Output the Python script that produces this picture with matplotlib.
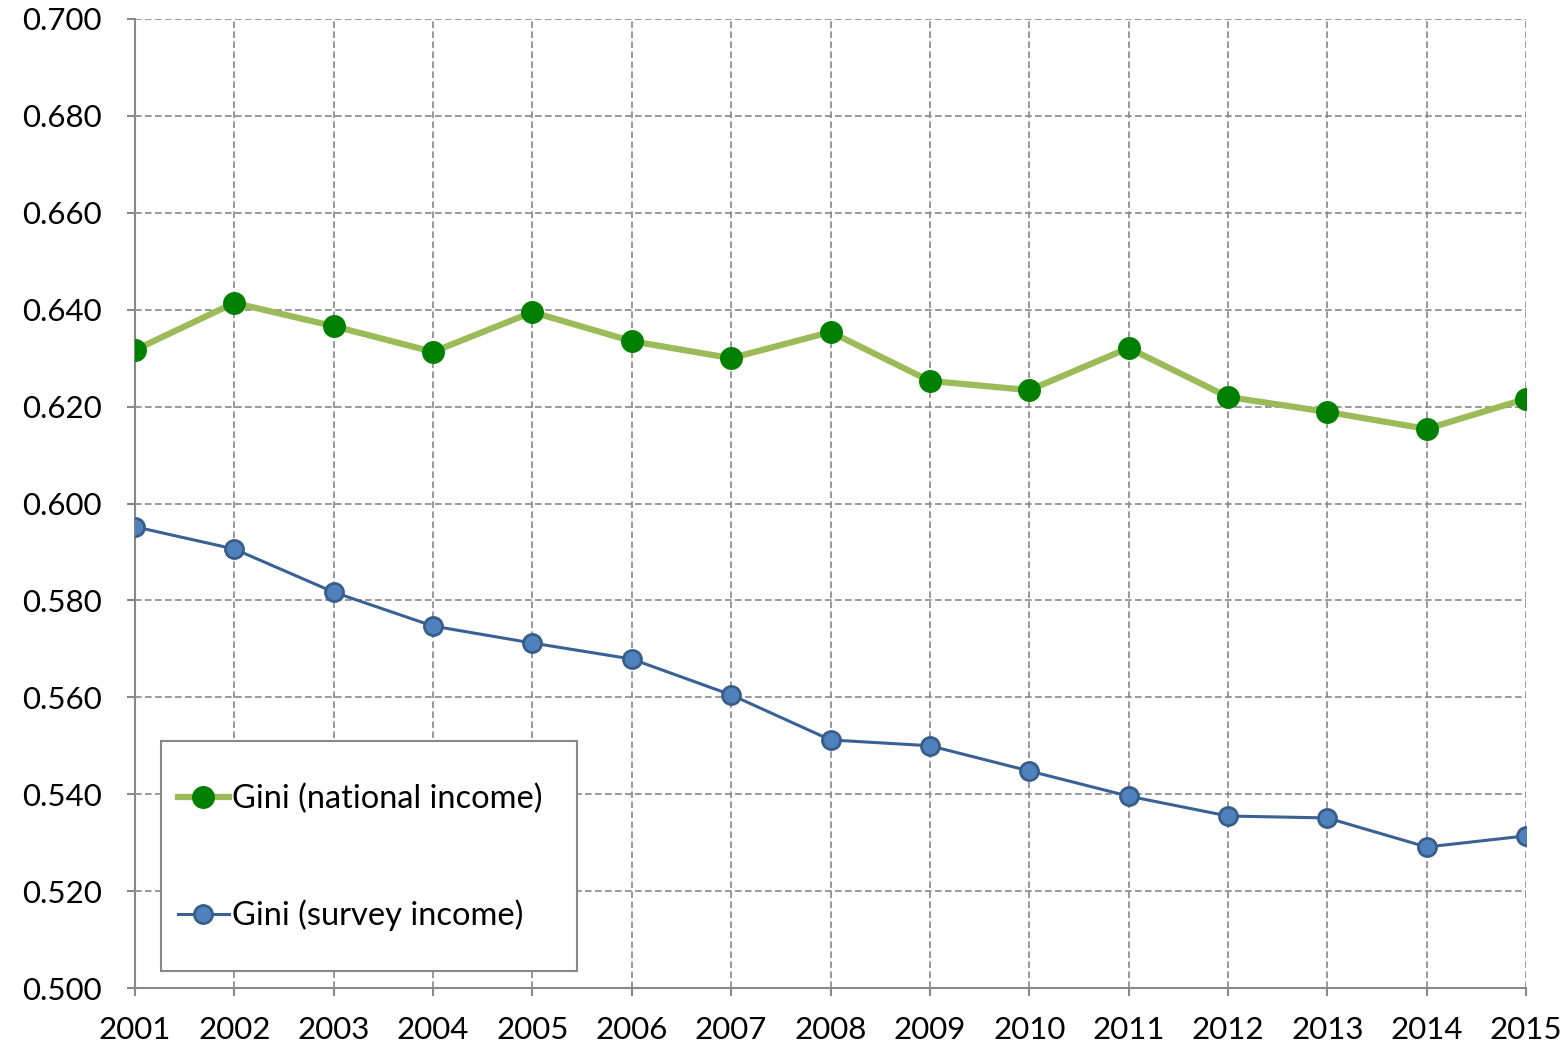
import numpy as np
import matplotlib.pyplot as plt
from matplotlib.patches import Rectangle

plt.rcParams['font.family'] = ['Lato', 'DejaVu Sans']

years = list(range(2001, 2016))
gini_national = [0.6317, 0.6414, 0.6366, 0.6313, 0.6395, 0.6335, 0.6300, 0.6354,
                 0.6253, 0.6234, 0.6321, 0.6220, 0.6189, 0.6154, 0.6216]
gini_survey = [0.5952, 0.5906, 0.5817, 0.5747, 0.5712, 0.5679, 0.5605, 0.5512,
               0.5500, 0.5448, 0.5396, 0.5355, 0.5351, 0.5291, 0.5314]

W, H = 1567, 1050
fig = plt.figure(figsize=(W / 100, H / 100), dpi=100)
ax = fig.add_axes([135 / W, 1 - 988 / H, (1526 - 135) / W, (988 - 19) / H])

ax.plot(years, gini_national, color='#9BBB59', lw=4.5, marker='o', ms=15.5,
        mfc='#008000', mec='#008000', label='Gini (national income)', zorder=3)
ax.plot(years, gini_survey, color='#3A6194', lw=2.2, marker='o', ms=13,
        mfc='#4F81BD', mec='#385D8A', mew=2, label='Gini (survey income)', zorder=3)

ax.set_xlim(2001, 2015)
ax.set_ylim(0.5, 0.7)
ax.set_xticks(years)
yt = np.arange(0.5, 0.7001, 0.02)
ax.set_yticks(yt)
ax.set_yticklabels(['%.3f' % v for v in yt])
ax.tick_params(axis='both', labelsize=22.5, color='#888888', length=6, width=1.5,
               direction='out')
ax.tick_params(axis='x', pad=14)
ax.tick_params(axis='y', pad=18)

ax.grid(True, ls=(0, (4, 2)), color='#888888', lw=1.2)
for s in ['top', 'right']:
    ax.spines[s].set_visible(False)
for s in ['left', 'bottom']:
    ax.spines[s].set_color('#888888')
    ax.spines[s].set_linewidth(1.5)

# legend box drawn separately so padding matches the original
ax.add_patch(Rectangle((161 / W, 1 - 971 / H), (577 - 161) / W, (971 - 741) / H,
                       transform=fig.transFigure, facecolor='white',
                       edgecolor='#888888', lw=1.5, zorder=4, clip_on=False))
leg = ax.legend(loc='center left', bbox_to_anchor=(178 / W, 1 - 857.5 / H),
                bbox_transform=fig.transFigure, fontsize=23.5, frameon=False,
                labelspacing=2.6, borderpad=0, handlelength=1.55,
                handletextpad=0.1, borderaxespad=0)
leg.set_zorder(5)

plt.savefig('out.png', dpi=100)
